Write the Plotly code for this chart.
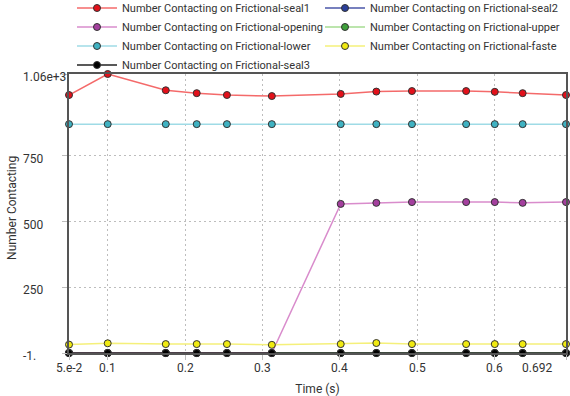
import plotly.graph_objects as go

time = [0.05, 0.1, 0.175, 0.215, 0.254, 0.312, 0.401, 0.447, 0.493, 0.563, 0.6, 0.636, 0.692]
seal1 = [982, 1062, 1000, 989, 982, 978, 986, 995, 997, 997, 994, 989, 982]
seal2 = [-1, -1, -1, -1, -1, -1, -1, -1, -1, -1, -1, -1, -1]
opening = [-1, -1, -1, -1, -1, -1, 567, 571, 574, 574, 574, 571, 574]
upper = [-1, -1, -1, -1, -1, -1, -1, -1, -1, -1, -1, -1, -1]
lower = [871, 871, 871, 871, 871, 871, 871, 871, 871, 871, 871, 871, 871]
faste = [31, 36, 33, 33, 33, 30, 33, 37, 33, 33, 33, 33, 33]
seal3 = [-1, -1, -1, -1, -1, -1, -1, -1, -1, -1, -1, -1, -1]

x_tickvals = [0.05, 0.1, 0.2, 0.3, 0.4, 0.5, 0.6, 0.692]
x_ticktext = ["5.e-2", "0.1", "0.2", "0.3", "0.4", "0.5", "0.6", "0.692"]
y_tickvals = [-1, 250, 500, 750, 1062]
y_ticktext = ["-1.", "250", "500", "750", "1.06e+3"]

FONT = "Roboto, Liberation Sans, sans-serif"

series = [
    ("Number Contacting on Frictional-seal1", seal1, "#f46a6a", "#e3101a"),
    ("Number Contacting on Frictional-seal2", seal2, "#4a56a8", "#2a3f9a"),
    ("Number Contacting on Frictional-opening", opening, "#d98ccc", "#a43f9e"),
    ("Number Contacting on Frictional-upper", upper, "#a6dc92", "#3ea03a"),
    ("Number Contacting on Frictional-lower", lower, "#9fdbe6", "#3fb2c2"),
    ("Number Contacting on Frictional-faste", faste, "#f5f07a", "#f0ea10"),
    ("Number Contacting on Frictional-seal3", seal3, "#222222", "#000000"),
]

fig = go.Figure()
draw_order = [1, 3, 0, 2, 4, 5, 6]
traces = {}
for i, (name, vals, lc, mc) in enumerate(series):
    traces[i] = go.Scatter(
        x=time, y=vals, name=name, mode="lines+markers",
        line=dict(color=lc, width=1.5),
        marker=dict(color=mc, size=7, line=dict(color="#333333", width=1)),
        cliponaxis=False,
        legendrank=i + 1,
    )
for i in draw_order:
    fig.add_trace(traces[i])

PLOT_L, PLOT_R, PLOT_T, PLOT_B = 69, 4, 74, 43
plot_w = 570 - PLOT_L - PLOT_R
plot_h = 396 - PLOT_T - PLOT_B
TXT = dict(family=FONT, size=12, color="#333333")

# left-aligned y tick labels (as in the reference)
for v, t in zip(y_tickvals, y_ticktext):
    fig.add_annotation(
        x=(21 - PLOT_L) / plot_w, xref="paper", xanchor="left",
        y=v, yref="y", yanchor="middle", yshift=-3,
        text=t, showarrow=False, font=TXT,
    )

# x tick labels; the last one is pulled inside the figure like the reference
for v, t in zip(x_tickvals, x_ticktext):
    last = v == x_tickvals[-1]
    fig.add_annotation(
        x=v, xref="x", xanchor="right" if last else "center",
        xshift=-12 if last else 0,
        y=0, yref="paper", yanchor="top", yshift=-6,
        text=t, showarrow=False, font=TXT,
    )

# y axis title
fig.add_annotation(
    x=(12 - PLOT_L) / plot_w, xref="paper", xanchor="center",
    y=0.52, yref="paper", yanchor="middle",
    text="Number Contacting", textangle=-90, showarrow=False, font=TXT,
)

fig.update_layout(
    width=570, height=396,
    margin=dict(l=PLOT_L, r=PLOT_R, t=PLOT_T, b=PLOT_B, autoexpand=False),
    paper_bgcolor="white", plot_bgcolor="white",
    font=TXT,
    legend=dict(
        orientation="h", x=72 / 570, xanchor="left",
        y=1 + (PLOT_T + 6.5) / plot_h, yanchor="top",
        xref="container", yref="paper",
        entrywidth=193, entrywidthmode="pixels",
        itemwidth=40, tracegroupgap=0,
        font=dict(family=FONT, size=11, color="#333333"),
        bgcolor="rgba(0,0,0,0)",
    ),
    showlegend=True,
)
fig.update_xaxes(
    range=[0.05, 0.692], tickvals=x_tickvals, showticklabels=False,
    showgrid=True, gridcolor="#bdbdbd", griddash="2px,3px", gridwidth=1,
    ticks="outside", ticklen=5, tickcolor="#bdbdbd",
    showline=True, linecolor="#555555", linewidth=2, mirror=True,
    zeroline=False,
    title=dict(text="Time (s)", font=dict(size=12), standoff=28),
)
fig.update_yaxes(
    range=[-1, 1062], tickvals=y_tickvals, showticklabels=False,
    showgrid=True, gridcolor="#bdbdbd", griddash="2px,3px", gridwidth=1,
    ticks="outside", ticklen=5, tickcolor="#bdbdbd",
    showline=True, linecolor="#555555", linewidth=2, mirror=True,
    zeroline=False,
)

fig.write_html(
    "out.html",
    config={"displayModeBar": False},
    post_script="document.body.style.margin='0px';",
)
